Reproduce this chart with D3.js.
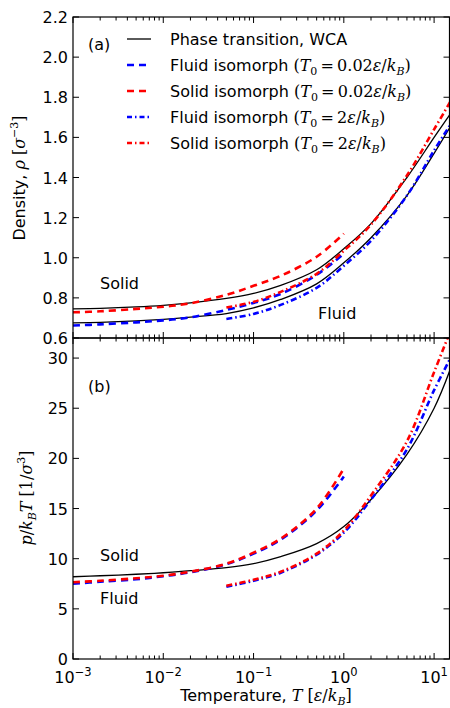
<!DOCTYPE html>
<html>
<head>
<meta charset="utf-8">
<script src="https://cdn.jsdelivr.net/npm/d3@7"></script>
<style>
body { margin: 0; background: #fff; }
text { font-family: "DejaVu Sans", sans-serif; fill: #000; }
.m { font-family: "DejaVu Serif", serif; font-style: italic; }
.r { font-family: "DejaVu Serif", serif; font-style: normal; }
</style>
</head>
<body>
<script>
// temperatures (eps/kB)
var T_all = [0.001, 0.002, 0.005, 0.01, 0.02, 0.05, 0.1, 0.2, 0.5, 1, 2, 5, 10, 15];
var T_low = [0.001, 0.002, 0.005, 0.01, 0.02, 0.05, 0.1, 0.2, 0.5, 1];
var T_high = [0.05, 0.1, 0.2, 0.5, 1, 2, 5, 10, 15];

// panel (a) density
var rho_solid = [0.745, 0.748, 0.755, 0.763, 0.775, 0.797, 0.822, 0.862, 0.94, 1.045, 1.17, 1.4, 1.6, 1.715];
var rho_fluid = [0.675, 0.678, 0.685, 0.693, 0.704, 0.722, 0.75, 0.792, 0.87, 0.975, 1.1, 1.31, 1.52, 1.65];
var rho_fluidIso002 = [0.662, 0.668, 0.678, 0.688, 0.703, 0.74, 0.775, 0.82, 0.915, 1.02];
var rho_solidIso002 = [0.728, 0.733, 0.745, 0.756, 0.773, 0.815, 0.86, 0.91, 1.005, 1.12];
var rho_fluidIso2 = [0.695, 0.72, 0.765, 0.85, 0.96, 1.085, 1.31, 1.535, 1.66];
var rho_solidIso2 = [0.752, 0.78, 0.83, 0.92, 1.035, 1.165, 1.41, 1.64, 1.775];

// panel (b) p/kBT
var p_coex = [8.2, 8.3, 8.45, 8.6, 8.8, 9.1, 9.5, 10.2, 11.5, 13.2, 15.9, 20.4, 25.0, 28.8];
var p_fluidIso002 = [7.5, 7.7, 7.95, 8.25, 8.65, 9.45, 10.5, 11.9, 14.8, 18.2];
var p_solidIso002 = [7.65, 7.8, 8.05, 8.3, 8.7, 9.5, 10.6, 12.0, 15.0, 19.0];
var p_fluidIso2 = [7.2, 7.8, 8.6, 10.4, 12.6, 15.9, 20.9, 26.8, 29.9];
var p_solidIso2 = [7.3, 7.9, 8.7, 10.5, 12.8, 16.3, 21.7, 28.6, 32.6];

var rhoTicks = [0.6, 0.8, 1.0, 1.2, 1.4, 1.6, 1.8, 2.0, 2.2];
var pTicks = [0, 5, 10, 15, 20, 25, 30];
var xTicks = [1e-3, 1e-2, 1e-1, 1e0, 1e1];

var W = 450, H = 708;
var FS = 16;
var svg = d3.select("body").append("svg").attr("width", W).attr("height", H);

var x = d3.scaleLog().domain([1e-3, 15]).range([73, 450]);
var yA = d3.scaleLinear().domain([0.6, 2.2]).range([338, 17]);
var yB = d3.scaleLinear().domain([0, 32]).range([659, 338]);

var blue = "#0000ff", red = "#ff0000";
var dash = "7,5", dashdot = "6,3,1.5,3";

var defs = svg.append("defs");
defs.append("clipPath").attr("id", "clipA").append("rect")
    .attr("x", 73).attr("y", 17).attr("width", 377).attr("height", 321);
defs.append("clipPath").attr("id", "clipB").append("rect")
    .attr("x", 73).attr("y", 338).attr("width", 377).attr("height", 321);

function drawLine(g, ys, Ts, vals, color, width, dasharray) {
    var pts = Ts.map(function(t, i) { return [t, vals[i]]; });
    var line = d3.line()
        .x(function(d) { return x(d[0]); })
        .y(function(d) { return ys(d[1]); })
        .curve(d3.curveCatmullRom.alpha(0.5));
    g.append("path")
        .attr("d", line(pts))
        .attr("fill", "none")
        .attr("stroke", color)
        .attr("stroke-width", width)
        .attr("stroke-dasharray", dasharray);
}

// minor ticks for log axis
var minor = [];
for (var k = -3; k <= 1; k++) {
    for (var m = 2; m <= 9; m++) {
        var v = m * Math.pow(10, k);
        if (v <= 15) minor.push(v);
    }
}

function xTicksOn(y0, dir) {
    // dir = -1 for ticks pointing up, +1 pointing down
    xTicks.forEach(function(t) {
        svg.append("line").attr("x1", x(t)).attr("x2", x(t))
            .attr("y1", y0).attr("y2", y0 + dir * 6)
            .attr("stroke", "#000").attr("stroke-width", 1);
    });
    minor.forEach(function(t) {
        svg.append("line").attr("x1", x(t)).attr("x2", x(t))
            .attr("y1", y0).attr("y2", y0 + dir * 3.5)
            .attr("stroke", "#000").attr("stroke-width", 1);
    });
}

function yTicksOn(ys, ticks, fmt) {
    ticks.forEach(function(t) {
        svg.append("line").attr("x1", 73).attr("x2", 79)
            .attr("y1", ys(t)).attr("y2", ys(t))
            .attr("stroke", "#000").attr("stroke-width", 1);
        svg.append("line").attr("x1", 449.5).attr("x2", 443.5)
            .attr("y1", ys(t)).attr("y2", ys(t))
            .attr("stroke", "#000").attr("stroke-width", 1);
        svg.append("text").attr("x", 68).attr("y", ys(t) + 6)
            .attr("text-anchor", "end").attr("font-size", FS)
            .text(fmt(t));
    });
}

// ---------- panel (a) ----------
var gA = svg.append("g").attr("clip-path", "url(#clipA)");
drawLine(gA, yA, T_all, rho_solid, "#000", 1.3, null);
drawLine(gA, yA, T_all, rho_fluid, "#000", 1.3, null);
drawLine(gA, yA, T_low, rho_fluidIso002, blue, 2.6, dash);
drawLine(gA, yA, T_low, rho_solidIso002, red, 2.6, dash);
drawLine(gA, yA, T_high, rho_fluidIso2, blue, 2.6, dashdot);
drawLine(gA, yA, T_high, rho_solidIso2, red, 2.6, dashdot);

// ---------- panel (b) ----------
var gB = svg.append("g").attr("clip-path", "url(#clipB)");
drawLine(gB, yB, T_all, p_coex, "#000", 1.3, null);
drawLine(gB, yB, T_low, p_fluidIso002, blue, 2.6, dash);
drawLine(gB, yB, T_low, p_solidIso002, red, 2.6, dash);
drawLine(gB, yB, T_high, p_fluidIso2, blue, 2.6, dashdot);
drawLine(gB, yB, T_high, p_solidIso2, red, 2.6, dashdot);

// frames
[[17, 338], [338, 659]].forEach(function(p) {
    svg.append("rect").attr("x", 73).attr("y", p[0])
        .attr("width", 376.5).attr("height", p[1] - p[0])
        .attr("fill", "none").attr("stroke", "#000").attr("stroke-width", 1.2);
});

xTicksOn(17, 1);
xTicksOn(338, -1);
xTicksOn(338, 1);
xTicksOn(659, -1);

yTicksOn(yA, rhoTicks, d3.format(".1f"));
yTicksOn(yB, pTicks, d3.format("d"));

// x tick labels
xTicks.forEach(function(t) {
    var e = Math.round(Math.log10(t));
    var tx = svg.append("text").attr("x", x(t)).attr("y", 683)
        .attr("text-anchor", "middle").attr("font-size", FS);
    tx.append("tspan").text("10");
    tx.append("tspan").attr("dy", -7).attr("font-size", 11.5)
        .text(e < 0 ? "\u2212" + (-e) : String(e));
});

// x axis label
var xl = svg.append("text").attr("x", 266).attr("y", 701)
    .attr("text-anchor", "middle").attr("font-size", FS);
xl.append("tspan").text("Temperature, ");
xl.append("tspan").attr("class", "m").text("T");
xl.append("tspan").attr("class", "r").text(" [");
xl.append("tspan").attr("class", "m").text("\u03b5");
xl.append("tspan").attr("class", "r").text("/");
xl.append("tspan").attr("class", "m").text("k");
xl.append("tspan").attr("class", "m").attr("dy", 4).attr("font-size", 11).text("B");
xl.append("tspan").attr("class", "r").attr("dy", -4).text("]");

// y label (a)
var ya = svg.append("text").attr("transform", "translate(25,178) rotate(-90)")
    .attr("text-anchor", "middle").attr("font-size", FS);
ya.append("tspan").text("Density, ");
ya.append("tspan").attr("class", "m").text("\u03c1");
ya.append("tspan").attr("class", "r").text(" [");
ya.append("tspan").attr("class", "m").text("\u03c3");
ya.append("tspan").attr("class", "r").attr("dy", -7).attr("font-size", 11).text("\u22123");
ya.append("tspan").attr("class", "r").attr("dy", 7).text("]");

// y label (b)
var yb = svg.append("text").attr("transform", "translate(32,498) rotate(-90)")
    .attr("text-anchor", "middle").attr("font-size", FS);
yb.append("tspan").attr("class", "m").text("p");
yb.append("tspan").attr("class", "r").text("/");
yb.append("tspan").attr("class", "m").text("k");
yb.append("tspan").attr("class", "m").attr("dy", 4).attr("font-size", 11).text("B");
yb.append("tspan").attr("class", "m").attr("dy", -4).text("T");
yb.append("tspan").attr("class", "r").text(" [1/");
yb.append("tspan").attr("class", "m").text("\u03c3");
yb.append("tspan").attr("class", "r").attr("dy", -7).attr("font-size", 11).text("3");
yb.append("tspan").attr("class", "r").attr("dy", 7).text("]");

// panel labels and phase labels
svg.append("text").attr("x", 88).attr("y", 50).attr("font-size", FS).text("(a)");
svg.append("text").attr("x", 88).attr("y", 392).attr("font-size", FS).text("(b)");
svg.append("text").attr("x", 100).attr("y", 289).attr("font-size", FS).text("Solid");
svg.append("text").attr("x", 318).attr("y", 319).attr("font-size", FS).text("Fluid");
svg.append("text").attr("x", 100).attr("y", 561).attr("font-size", FS).text("Solid");
svg.append("text").attr("x", 100).attr("y", 604).attr("font-size", FS).text("Fluid");

// legend
var legend = [
    { name: "Phase transition, WCA", color: "#000", w: 1.3, dash: null, t0: null },
    { name: "Fluid isomorph ", color: blue, w: 2.6, dash: dash, t0: "0.02" },
    { name: "Solid isomorph ", color: red, w: 2.6, dash: dash, t0: "0.02" },
    { name: "Fluid isomorph ", color: blue, w: 2.6, dash: dashdot, t0: "2" },
    { name: "Solid isomorph ", color: red, w: 2.6, dash: dashdot, t0: "2" }
];
legend.forEach(function(d, i) {
    var yy = 39 + i * 26;
    svg.append("line").attr("x1", 127).attr("x2", 151).attr("y1", yy).attr("y2", yy)
        .attr("stroke", d.color).attr("stroke-width", d.w)
        .attr("stroke-dasharray", d.dash ? (d.dash === dash ? "7,5" : "5,3,1.5,3") : null);
    var t = svg.append("text").attr("x", 170).attr("y", yy + 6).attr("font-size", FS);
    t.append("tspan").text(d.name);
    if (d.t0) {
        t.append("tspan").attr("class", "r").text("(");
        t.append("tspan").attr("class", "m").text("T");
        t.append("tspan").attr("class", "r").attr("dy", 4).attr("font-size", 11).text("0");
        t.append("tspan").attr("class", "r").attr("dy", -4).text("\u2009=\u2009" + d.t0);
        t.append("tspan").attr("class", "m").text("\u03b5");
        t.append("tspan").attr("class", "r").text("/");
        t.append("tspan").attr("class", "m").text("k");
        t.append("tspan").attr("class", "m").attr("dy", 4).attr("font-size", 11).text("B");
        t.append("tspan").attr("class", "r").attr("dy", -4).text(")");
    }
});
</script>
</body>
</html>
